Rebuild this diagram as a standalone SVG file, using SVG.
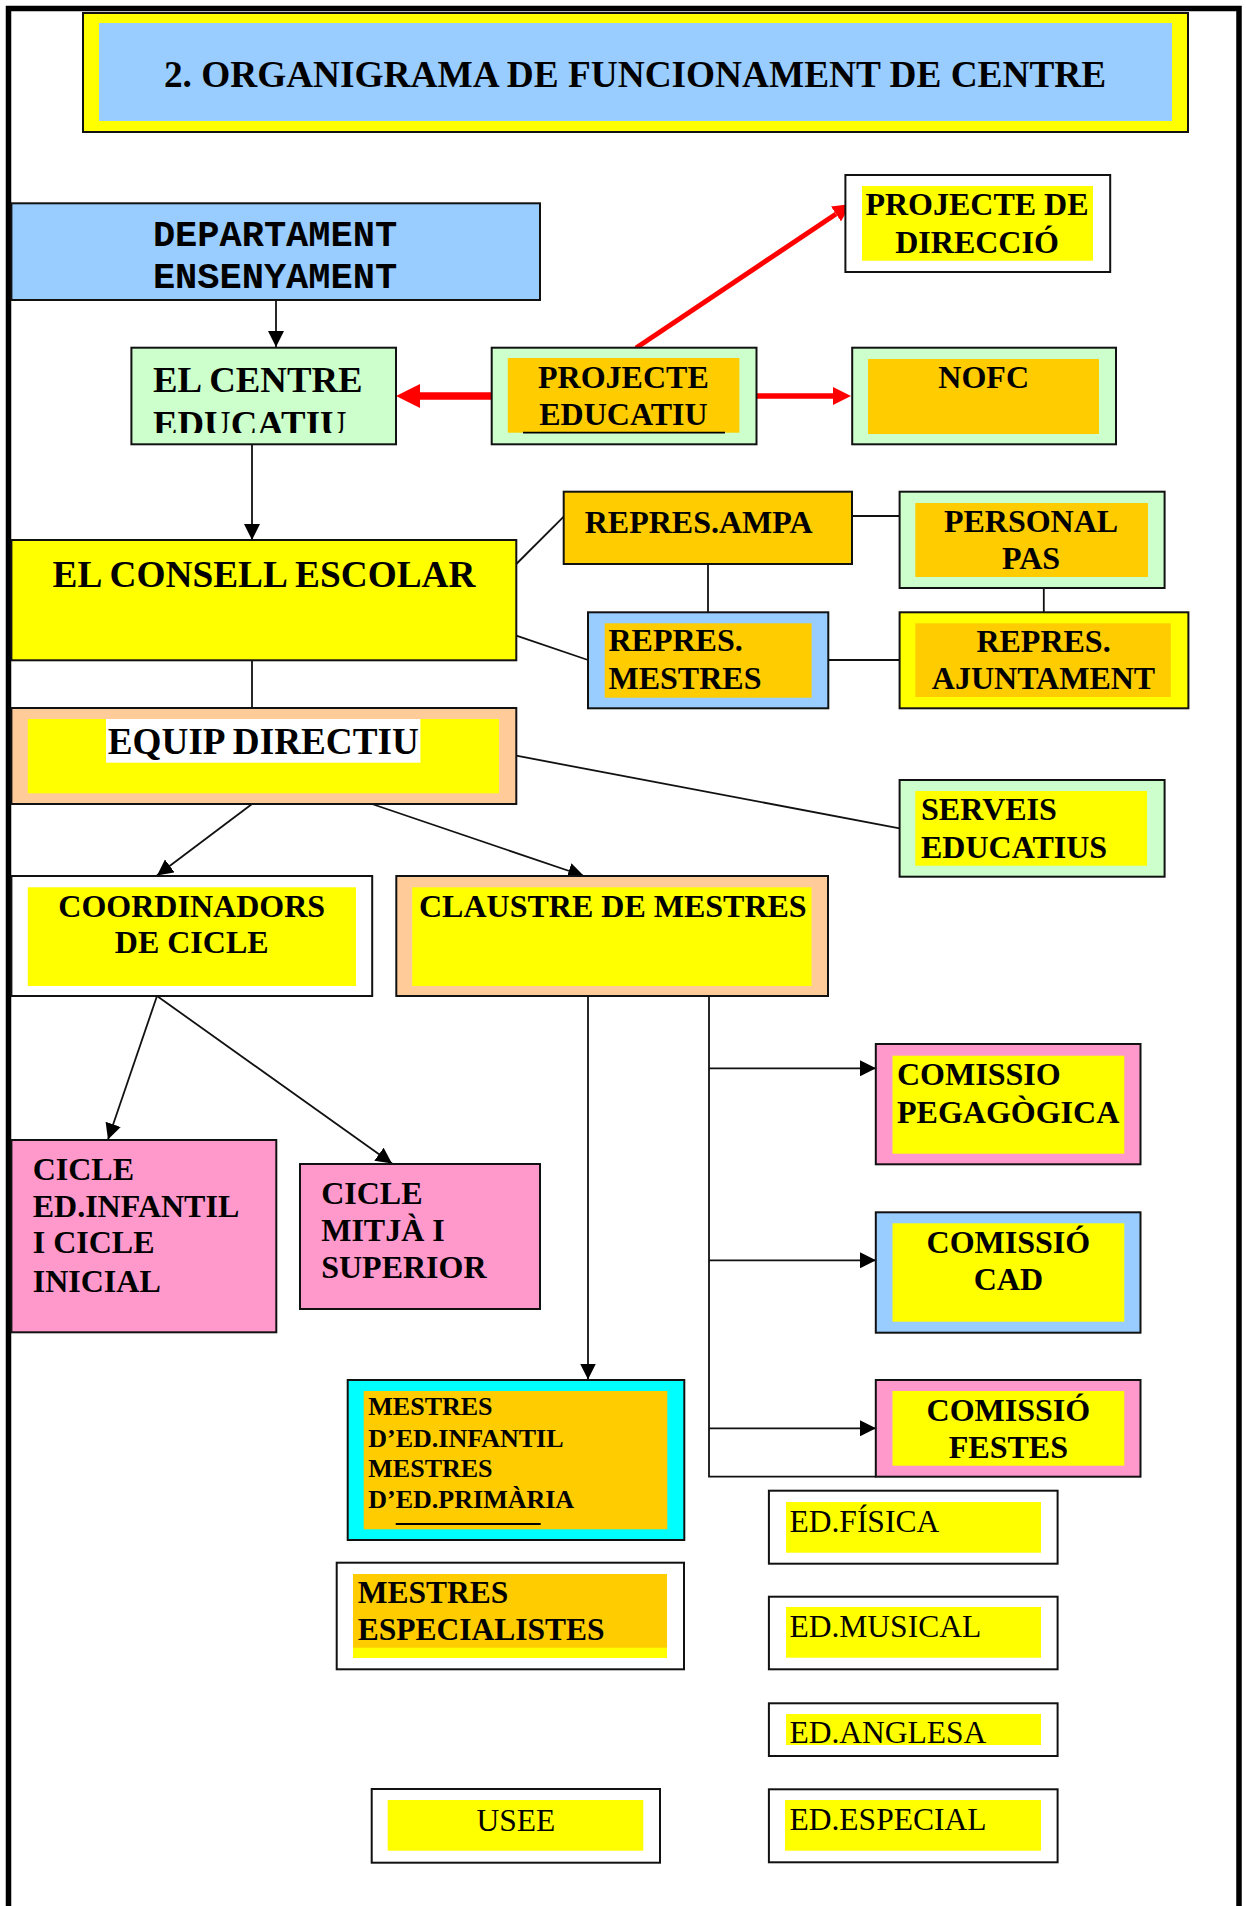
<svg xmlns="http://www.w3.org/2000/svg" width="1246" height="1906" viewBox="0 0 1246 1906">
<style>
.box{stroke:#111;stroke-width:2}
.b{font-family:"Liberation Serif","Times New Roman",serif;font-weight:bold;font-size:32px;fill:#000}
.r{font-family:"Liberation Serif","Times New Roman",serif;font-size:31.5px;fill:#000}
.m{text-anchor:middle}
.ln{stroke:#111;stroke-width:1.8;fill:none}
.red{stroke:#FF0000;fill:none}
</style>
<defs>
<marker id="ah" viewBox="0 0 16 16" refX="16" refY="8" markerWidth="16" markerHeight="16" markerUnits="userSpaceOnUse" orient="auto"><path d="M0,0 L16,8 L0,16 z" fill="#000"/></marker>
<marker id="rbig" viewBox="0 0 24 24" refX="0" refY="12" markerWidth="24" markerHeight="24" markerUnits="userSpaceOnUse" orient="auto"><path d="M0,0 L24,12 L0,24 z" fill="#FF0000"/></marker>
<marker id="rsm" viewBox="0 0 18 18" refX="0" refY="9" markerWidth="18" markerHeight="18" markerUnits="userSpaceOnUse" orient="auto"><path d="M0,0 L18,9 L0,18 z" fill="#FF0000"/></marker>
<clipPath id="clipCentre"><rect x="131" y="347" width="266" height="86"/></clipPath>
</defs>
<rect width="1246" height="1906" fill="#fff"/>
<path d="M8.5 1906 V8.5 H1239 V1906" fill="none" stroke="#000" stroke-width="5.5"/>

<g id="title">
<rect class="box" x="83" y="13" width="1105" height="119" fill="#FFFF00"/>
<rect x="99" y="23" width="1073" height="98" fill="#99CCFF"/>
<text class="b m" x="635" y="87" style="font-size:37.3px">2. ORGANIGRAMA DE FUNCIONAMENT DE CENTRE</text>
</g>

<g id="connectors">
<line class="ln" x1="276" y1="300" x2="276" y2="347" marker-end="url(#ah)"/>
<line class="ln" x1="252" y1="444" x2="252" y2="540" marker-end="url(#ah)"/>
<line class="ln" x1="252" y1="660" x2="252" y2="708"/>
<line class="ln" x1="516.3" y1="564" x2="563.7" y2="516.7"/>
<line class="ln" x1="516.3" y1="635.7" x2="588" y2="660"/>
<line class="ln" x1="708" y1="564" x2="708" y2="612.3"/>
<line class="ln" x1="852" y1="516" x2="899.6" y2="516"/>
<line class="ln" x1="1043.8" y1="588" x2="1043.8" y2="612.3"/>
<line class="ln" x1="828.3" y1="660" x2="899.6" y2="660"/>
<line class="ln" x1="516.3" y1="755.7" x2="899.6" y2="828.3"/>
<line class="ln" x1="252" y1="804" x2="157" y2="875.5" marker-end="url(#ah)"/>
<line class="ln" x1="372" y1="804" x2="584" y2="876" marker-end="url(#ah)"/>
<line class="ln" x1="157" y1="996" x2="108" y2="1139.5" marker-end="url(#ah)"/>
<line class="ln" x1="157" y1="996" x2="392" y2="1163.5" marker-end="url(#ah)"/>
<line class="ln" x1="588" y1="996" x2="588" y2="1379.5" marker-end="url(#ah)"/>
<path class="ln" d="M709 996 V1476.7 H876"/>
<line class="ln" x1="709" y1="1068.3" x2="876" y2="1068.3" marker-end="url(#ah)"/>
<line class="ln" x1="709" y1="1260.3" x2="876" y2="1260.3" marker-end="url(#ah)"/>
<line class="ln" x1="709" y1="1428.3" x2="876" y2="1428.3" marker-end="url(#ah)"/>
<line class="red" stroke-width="7.5" x1="492" y1="396" x2="420" y2="396" marker-end="url(#rbig)"/>
<line class="red" stroke-width="5.5" x1="756.5" y1="396" x2="833" y2="396" marker-end="url(#rsm)"/>
<line class="red" stroke-width="5" x1="636" y1="348" x2="836" y2="214" marker-end="url(#rsm)"/>
</g>

<g id="departament">
<rect class="box" x="11.4" y="203.3" width="528.6" height="96.7" fill="#99CCFF"/>
<text x="275" y="246" text-anchor="middle" style="font-family:'Liberation Mono','Courier New',monospace;font-weight:bold;font-size:37px">DEPARTAMENT</text>
<text x="275" y="288.3" text-anchor="middle" style="font-family:'Liberation Mono','Courier New',monospace;font-weight:bold;font-size:37px">ENSENYAMENT</text>
</g>

<g id="centre">
<rect class="box" x="131.4" y="347.7" width="264.6" height="96.6" fill="#CCFFCC"/>
<g clip-path="url(#clipCentre)">
<text class="b" x="153" y="391.7" style="font-size:36.8px">EL CENTRE</text>
<text class="b" x="153" y="436" style="font-size:36.8px">EDUCATIU</text>
</g>
</g>

<g id="projecte-educatiu">
<rect class="box" x="491.7" y="347.7" width="264.8" height="96.6" fill="#CCFFCC"/>
<rect x="507.8" y="358" width="231.6" height="74.7" fill="#FFCC00"/>
<text class="b m" x="623.4" y="387.7">PROJECTE</text>
<text class="b m" x="623.4" y="425">EDUCATIU</text>
<line x1="523" y1="432.7" x2="725" y2="432.7" stroke="#000" stroke-width="1.8"/>
</g>

<g id="projecte-direccio">
<rect class="box" x="845.4" y="175" width="264.8" height="97" fill="#fff"/>
<rect x="862" y="186" width="231" height="74.7" fill="#FFFF00"/>
<text class="b m" x="977" y="215">PROJECTE DE</text>
<text class="b m" x="977" y="252.7">DIRECCIÓ</text>
</g>

<g id="nofc">
<rect class="box" x="852.2" y="347.7" width="263.8" height="96.6" fill="#CCFFCC"/>
<rect x="868" y="359" width="231" height="75" fill="#FFCC00"/>
<text class="b m" x="983.7" y="388.3">NOFC</text>
</g>

<g id="consell">
<rect class="box" x="11.4" y="540" width="504.9" height="120.3" fill="#FFFF00"/>
<text class="b m" x="264" y="586.7" style="font-size:37.3px">EL CONSELL ESCOLAR</text>
</g>

<g id="ampa">
<rect class="box" x="563.7" y="491.7" width="288.3" height="72.3" fill="#FFCC00"/>
<text class="b" x="584.7" y="533.3">REPRES.AMPA</text>
</g>

<g id="personal-pas">
<rect class="box" x="899.6" y="491.7" width="265" height="96.3" fill="#CCFFCC"/>
<rect x="915.3" y="503" width="232.7" height="74" fill="#FFCC00"/>
<text class="b m" x="1031" y="531.7">PERSONAL</text>
<text class="b m" x="1031" y="569.3">PAS</text>
</g>

<g id="repres-mestres">
<rect class="box" x="588" y="612.3" width="240.3" height="96" fill="#99CCFF"/>
<rect x="604.7" y="623.3" width="206.9" height="74.4" fill="#FFCC00"/>
<text class="b" x="608.5" y="651">REPRES.</text>
<text class="b" x="608.5" y="689">MESTRES</text>
</g>

<g id="repres-ajuntament">
<rect class="box" x="899.6" y="612.3" width="288.8" height="96" fill="#FFFF00"/>
<rect x="915.3" y="623.3" width="255.5" height="73.7" fill="#FFCC00"/>
<text class="b m" x="1043.5" y="651.7">REPRES.</text>
<text class="b m" x="1043.5" y="689">AJUNTAMENT</text>
</g>

<g id="equip-directiu">
<rect class="box" x="11.4" y="708" width="504.9" height="96" fill="#FFCC99"/>
<rect x="27.8" y="719" width="471.2" height="74.3" fill="#FFFF00"/>
<rect x="106" y="719" width="314.4" height="43.7" fill="#fff"/>
<text class="b m" x="263.3" y="754" style="font-size:37.2px">EQUIP DIRECTIU</text>
</g>

<g id="serveis">
<rect class="box" x="899.6" y="780" width="265" height="96.7" fill="#CCFFCC"/>
<rect x="915.3" y="791" width="231.7" height="74.7" fill="#FFFF00"/>
<text class="b" x="921" y="820">SERVEIS</text>
<text class="b" x="921" y="858.3">EDUCATIUS</text>
</g>

<g id="coordinadors">
<rect class="box" x="11.4" y="876" width="360.8" height="120" fill="#fff"/>
<rect x="27.8" y="887.3" width="328.2" height="98.7" fill="#FFFF00"/>
<text class="b m" x="191.7" y="916.7">COORDINADORS</text>
<text class="b m" x="191.7" y="953.3">DE CICLE</text>
</g>

<g id="claustre">
<rect class="box" x="396.3" y="876" width="431.7" height="120" fill="#FFCC99"/>
<rect x="412.2" y="887.3" width="399.3" height="98.7" fill="#FFFF00"/>
<text class="b" x="419" y="916.7">CLAUSTRE DE MESTRES</text>
</g>

<g id="cicle-infantil">
<rect class="box" x="11.4" y="1140" width="264.9" height="192.3" fill="#FF99CC"/>
<text class="b" x="32.7" y="1180">CICLE</text>
<text class="b" x="32.7" y="1216.7">ED.INFANTIL</text>
<text class="b" x="32.7" y="1253.3">I CICLE</text>
<text class="b" x="32.7" y="1291.7">INICIAL</text>
</g>

<g id="cicle-mitja">
<rect class="box" x="300" y="1164" width="240" height="145" fill="#FF99CC"/>
<text class="b" x="321.2" y="1204.3">CICLE</text>
<text class="b" x="321.2" y="1241">MITJÀ I</text>
<text class="b" x="321.2" y="1278.3">SUPERIOR</text>
</g>

<g id="comissio-pedagogica">
<rect class="box" x="875.8" y="1044" width="264.7" height="120.3" fill="#FF99CC"/>
<rect x="892.5" y="1055.7" width="231.8" height="98" fill="#FFFF00"/>
<text class="b" x="897" y="1085">COMISSIO</text>
<text class="b" x="897" y="1122.7">PEGAGÒGICA</text>
</g>

<g id="comissio-cad">
<rect class="box" x="875.8" y="1212.3" width="264.7" height="120.4" fill="#99CCFF"/>
<rect x="892.5" y="1223.3" width="231.8" height="98.4" fill="#FFFF00"/>
<text class="b m" x="1008.4" y="1252.7">COMISSIÓ</text>
<text class="b m" x="1008.4" y="1290">CAD</text>
</g>

<g id="comissio-festes">
<rect class="box" x="875.8" y="1380" width="264.7" height="96.7" fill="#FF99CC"/>
<rect x="892.5" y="1391" width="231.8" height="74.7" fill="#FFFF00"/>
<text class="b m" x="1008.4" y="1420.7">COMISSIÓ</text>
<text class="b m" x="1008.4" y="1458.3">FESTES</text>
</g>

<g id="mestres-ed">
<rect class="box" x="347.7" y="1380" width="336.6" height="160" fill="#00FFFF"/>
<rect x="363.7" y="1391" width="303.6" height="138.3" fill="#FFCC00"/>
<text class="b" x="368.3" y="1415" style="font-size:26px">MESTRES</text>
<text class="b" x="368.3" y="1446.5" style="font-size:26px">D’ED.INFANTIL</text>
<text class="b" x="368.3" y="1477" style="font-size:26px">MESTRES</text>
<text class="b" x="368.3" y="1508" style="font-size:26px">D’ED.PRIMÀRIA</text>
<line x1="395.7" y1="1524" x2="540.7" y2="1524" stroke="#000" stroke-width="1.8"/>
</g>

<g id="mestres-especialistes">
<rect class="box" x="336.7" y="1562.7" width="347.3" height="106.6" fill="#fff"/>
<rect x="353" y="1574" width="314" height="84" fill="#FFFF00"/>
<rect x="353" y="1574" width="314" height="73.7" fill="#FFCC00"/>
<text class="b" x="357.7" y="1603.3" style="font-size:31.5px">MESTRES</text>
<text class="b" x="357.7" y="1640" style="font-size:31.5px">ESPECIALISTES</text>
</g>

<g id="ed-fisica">
<rect class="box" x="768.9" y="1490.7" width="288.7" height="73" fill="#fff"/>
<rect x="786" y="1502" width="255" height="50.7" fill="#FFFF00"/>
<text class="r" x="789.5" y="1531.7">ED.FÍSICA</text>
</g>

<g id="ed-musical">
<rect class="box" x="768.9" y="1596.7" width="288.7" height="72.6" fill="#fff"/>
<rect x="786" y="1607" width="255" height="50.7" fill="#FFFF00"/>
<text class="r" x="789.5" y="1636.7">ED.MUSICAL</text>
</g>

<g id="ed-anglesa">
<rect class="box" x="768.9" y="1703.3" width="288.7" height="52.7" fill="#fff"/>
<rect x="786" y="1714" width="255" height="31" fill="#FFFF00"/>
<text class="r" x="789.5" y="1742.7">ED.ANGLESA</text>
</g>

<g id="ed-especial">
<rect class="box" x="768.9" y="1789.3" width="288.7" height="73" fill="#fff"/>
<rect x="785" y="1800" width="256" height="50.7" fill="#FFFF00"/>
<text class="r" x="789.5" y="1830">ED.ESPECIAL</text>
</g>

<g id="usee">
<rect class="box" x="371.7" y="1789" width="288.3" height="73.7" fill="#fff"/>
<rect x="387.7" y="1800" width="255.6" height="50.7" fill="#FFFF00"/>
<text class="r m" x="515.8" y="1831">USEE</text>
</g>
</svg>
